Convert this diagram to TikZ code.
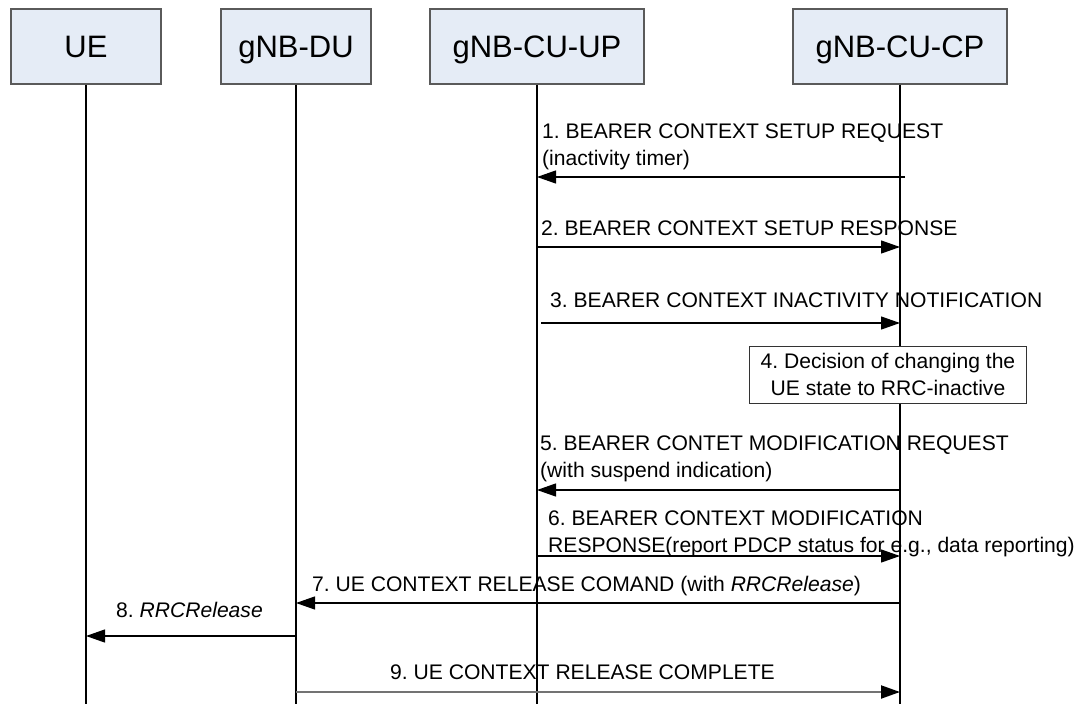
\documentclass[tikz,border=0pt]{standalone}
\usepackage{fontspec}
\setmainfont{Liberation Sans}
\usetikzlibrary{arrows.meta}
\definecolor{boxfill}{RGB}{229,236,246}
\definecolor{boxline}{RGB}{90,90,90}
\begin{document}
\frenchspacing
\begin{tikzpicture}[x=1pt,y=-1pt,
  entity/.style={draw=boxline, fill=boxfill, line width=1.3pt, minimum height=75pt, inner sep=0pt, text height=22pt, text depth=0pt, font=\fontsize{31}{36}\selectfont},
  life/.style={line width=1.2pt},
  msg/.style={line width=1.2pt, -{Triangle[length=19pt,width=13pt]}},
  msggray/.style={line width=2pt, draw=black!55, -{Triangle[length=19pt,width=13pt,color=black]}},
  lbl/.style={anchor=base west, inner sep=0pt, font=\fontsize{21.1}{25}\selectfont},
  note/.style={draw=black!80, fill=white, line width=1pt, minimum width=277pt, minimum height=57pt, align=center, inner sep=0pt, font=\fontsize{21.1}{27}\selectfont},
]
\useasboundingbox (0,0) rectangle (1082,704);
% entities
\node[entity, minimum width=150pt] (ue) at (86,46.5) {UE};
\node[entity, minimum width=150pt] (du) at (296,46.5) {gNB-DU};
\node[entity, minimum width=214pt] (up) at (537,46.5) {gNB-CU-UP};
\node[entity, minimum width=214pt] (cp) at (900,46.5) {gNB-CU-CP};
% lifelines
\coordinate (ueE) at (86,704);
\coordinate (duE) at (296,704);
\coordinate (upE) at (537,704);
\coordinate (cpE) at (900,704);
\draw[life] (ue.south) -- (ueE);
\draw[life] (du.south) -- (duE);
\draw[life] (up.south) -- (upE);
\draw[life] (cp.south) -- (cpE);
% message endpoints
\coordinate (m1s) at (905,177); \coordinate (m1e) at (537,177);
\coordinate (m2s) at (537,247); \coordinate (m2e) at (900,247);
\coordinate (m3s) at (541,323); \coordinate (m3e) at (900,323);
\coordinate (m5s) at (900,490); \coordinate (m5e) at (537,490);
\coordinate (m6s) at (538,556); \coordinate (m6e) at (900,556);
\coordinate (m7s) at (900,603); \coordinate (m7e) at (296,603);
\coordinate (m8s) at (296,636); \coordinate (m8e) at (86,636);
\coordinate (m9s) at (296,692); \coordinate (m9e) at (900,692);
% messages
\draw[msg] (m1s) -- (m1e);
\draw[msg] (m2s) -- (m2e);
\draw[msg] (m3s) -- (m3e);
\draw[msg] (m5s) -- (m5e);
\draw[msg] (m6s) -- (m6e);
\draw[msg] (m7s) -- (m7e);
\draw[msg] (m8s) -- (m8e);
\draw[msggray] (m9s) -- (m9e);
% labels
\node[lbl] (t1a) at (542,138.5) {1. BEARER CONTEXT SETUP REQUEST};
\node[lbl] (t1b) at (542,165) {(inactivity timer)};
\node[lbl] (t2) at (541,235.5) {2. BEARER CONTEXT SETUP RESPONSE};
\node[lbl] (t3) at (550,307.5) {3. BEARER CONTEXT INACTIVITY NOTIFICATION};
\node[note] (n4) at (888,374.5) {4. Decision of changing the\\UE state to RRC-inactive};
\node[lbl] (t5a) at (540,450.5) {5. BEARER CONTET MODIFICATION REQUEST};
\node[lbl] (t5b) at (540,477) {(with suspend indication)};
\node[lbl] (t6a) at (548,525.5) {6. BEARER CONTEXT MODIFICATION};
\node[lbl] (t6b) at (548,552) {RESPONSE(report PDCP status for e.g., data reporting)};
\node[lbl] (t7) at (312,591.5) {7. UE CONTEXT RELEASE COMAND (with \textit{RRCRelease})};
\node[lbl] (t8) at (116,617) {8. \textit{RRCRelease}};
\node[lbl] (t9) at (390,679.5) {9. UE CONTEXT RELEASE COMPLETE};
\end{tikzpicture}
\end{document}
